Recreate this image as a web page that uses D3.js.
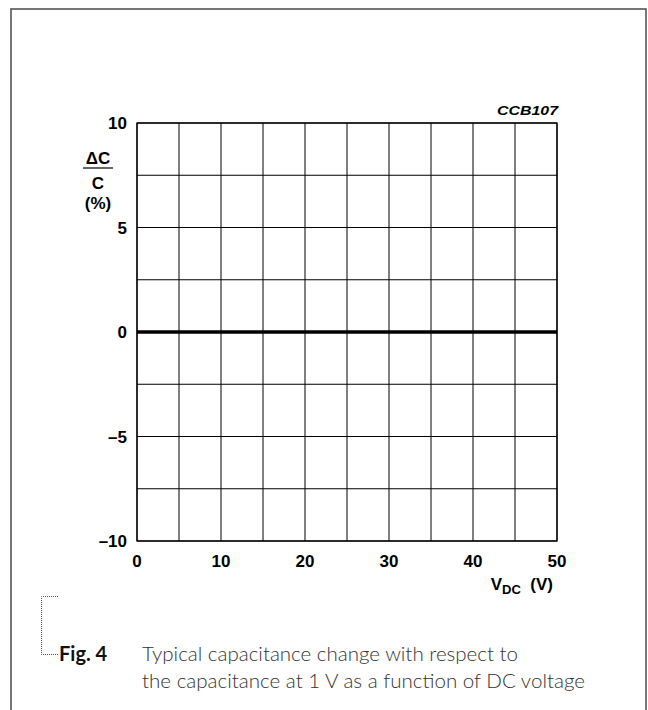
<!DOCTYPE html>
<html>
<head>
<meta charset="utf-8">
<script src="https://cdn.jsdelivr.net/npm/d3@7"></script>
<style>
  html, body { margin: 0; padding: 0; background: #fff; }
  svg { display: block; }
  .tick-label { font-family: "Liberation Sans", Arial, sans-serif; font-weight: bold; font-size: 17px; fill: #000; }
  .caption { font-family: Lato, "Open Sans", sans-serif; font-size: 20px; fill: #333; font-weight: 300; }
</style>
</head>
<body>
<svg id="chart" width="648" height="710"></svg>
<script>
// measured curve: dC/C stays flat at 0 % over the whole range
const voltages = [0, 10, 20, 30, 40, 50];
const deltaC = [0, 0, 0, 0, 0, 0];
const xTicks = [0, 10, 20, 30, 40, 50];
const yTicks = [-10, -5, 0, 5, 10];
const xGrid = d3.range(0, 50.01, 5);
const yGrid = d3.range(-10, 10.01, 2.5);
const yTickText = ['\u201310', '\u20135', '0', '5', '10'];

const svg = d3.select('#chart');
const margin = { left: 137, right: 91, top: 123, bottom: 169 };
const width = 648, height = 710;

const x = d3.scaleLinear().domain([0, 50]).range([margin.left, width - margin.right]);
const y = d3.scaleLinear().domain([-10, 10]).range([height - margin.bottom, margin.top]);

// outer frame
svg.append('rect')
  .attr('x', 11).attr('y', 9)
  .attr('width', 635).attr('height', 720)
  .attr('fill', 'none')
  .attr('stroke', '#555')
  .attr('stroke-width', 1.6);

// grid
svg.append('g')
  .selectAll('line')
  .data(xGrid)
  .join('line')
  .attr('x1', d => x(d)).attr('x2', d => x(d))
  .attr('y1', y(-10)).attr('y2', y(10))
  .attr('stroke', '#000').attr('stroke-width', 1);

svg.append('g')
  .selectAll('line')
  .data(yGrid)
  .join('line')
  .attr('x1', x(0)).attr('x2', x(50))
  .attr('y1', d => y(d)).attr('y2', d => y(d))
  .attr('stroke', '#000').attr('stroke-width', 1);

svg.append('rect')
  .attr('x', x(0)).attr('y', y(10))
  .attr('width', x(50) - x(0)).attr('height', y(-10) - y(10))
  .attr('fill', 'none').attr('stroke', '#000').attr('stroke-width', 1.3);

// curve
const line = d3.line()
  .x((d, i) => x(voltages[i]))
  .y(d => y(d));

svg.append('path')
  .datum(deltaC)
  .attr('d', line)
  .attr('fill', 'none')
  .attr('stroke', '#000')
  .attr('stroke-width', 3.5);

// tick labels
svg.append('g')
  .selectAll('text')
  .data(xTicks)
  .join('text')
  .attr('class', 'tick-label')
  .attr('x', d => x(d))
  .attr('y', y(-10) + 25.5)
  .attr('text-anchor', 'middle')
  .text(d => d);

svg.append('g')
  .selectAll('text')
  .data(yTicks)
  .join('text')
  .attr('class', 'tick-label')
  .attr('x', x(0) - 10)
  .attr('y', d => y(d) + 6)
  .attr('text-anchor', 'end')
  .text((d, i) => yTickText[i]);

// y axis title
const yTitle = svg.append('g');
yTitle.append('text').attr('class', 'tick-label').attr('x', 98).attr('y', 164).attr('text-anchor', 'middle').text('\u0394C');
yTitle.append('line').attr('x1', 83).attr('x2', 113).attr('y1', 168).attr('y2', 168).attr('stroke', '#000').attr('stroke-width', 1.2);
yTitle.append('text').attr('class', 'tick-label').attr('x', 98).attr('y', 189).attr('text-anchor', 'middle').text('C');
yTitle.append('text').attr('class', 'tick-label').attr('x', 98).attr('y', 209).attr('text-anchor', 'middle').text('(%)');

// x axis title
const xTitle = svg.append('text')
  .attr('class', 'tick-label')
  .attr('x', 553)
  .attr('y', 590)
  .attr('text-anchor', 'end');
xTitle.append('tspan').text('V');
xTitle.append('tspan').attr('dy', 4).style('font-size', '13px').text('DC');
xTitle.append('tspan').attr('dy', -4).text('\u00a0 (V)');

// code label
svg.append('text')
  .attr('class', 'tick-label')
  .attr('x', 497).attr('y', 115)
  .attr('textLength', 61)
  .attr('lengthAdjust', 'spacingAndGlyphs')
  .style('font-size', '12px')
  .style('font-style', 'italic')
  .text('CCB107');

// caption with dotted marker
svg.append('path')
  .attr('d', 'M58,596.5 H41.5 V654.5 H58')
  .attr('fill', 'none')
  .attr('stroke', '#555')
  .attr('stroke-width', 1)
  .attr('stroke-dasharray', '1,1');

svg.append('text')
  .attr('class', 'caption')
  .attr('x', 59).attr('y', 661)
  .style('font-weight', 'bold')
  .style('fill', '#111')
  .style('font-size', '20px')
  .text('Fig. 4');

svg.append('text').attr('class', 'caption').attr('x', 142).attr('y', 661)
  .attr('textLength', 376).attr('lengthAdjust', 'spacingAndGlyphs')
  .text('Typical capacitance change with respect to');
svg.append('text').attr('class', 'caption').attr('x', 142).attr('y', 688)
  .attr('textLength', 443).attr('lengthAdjust', 'spacingAndGlyphs')
  .text('the capacitance at 1 V as a function of DC voltage');
</script>
</body>
</html>
